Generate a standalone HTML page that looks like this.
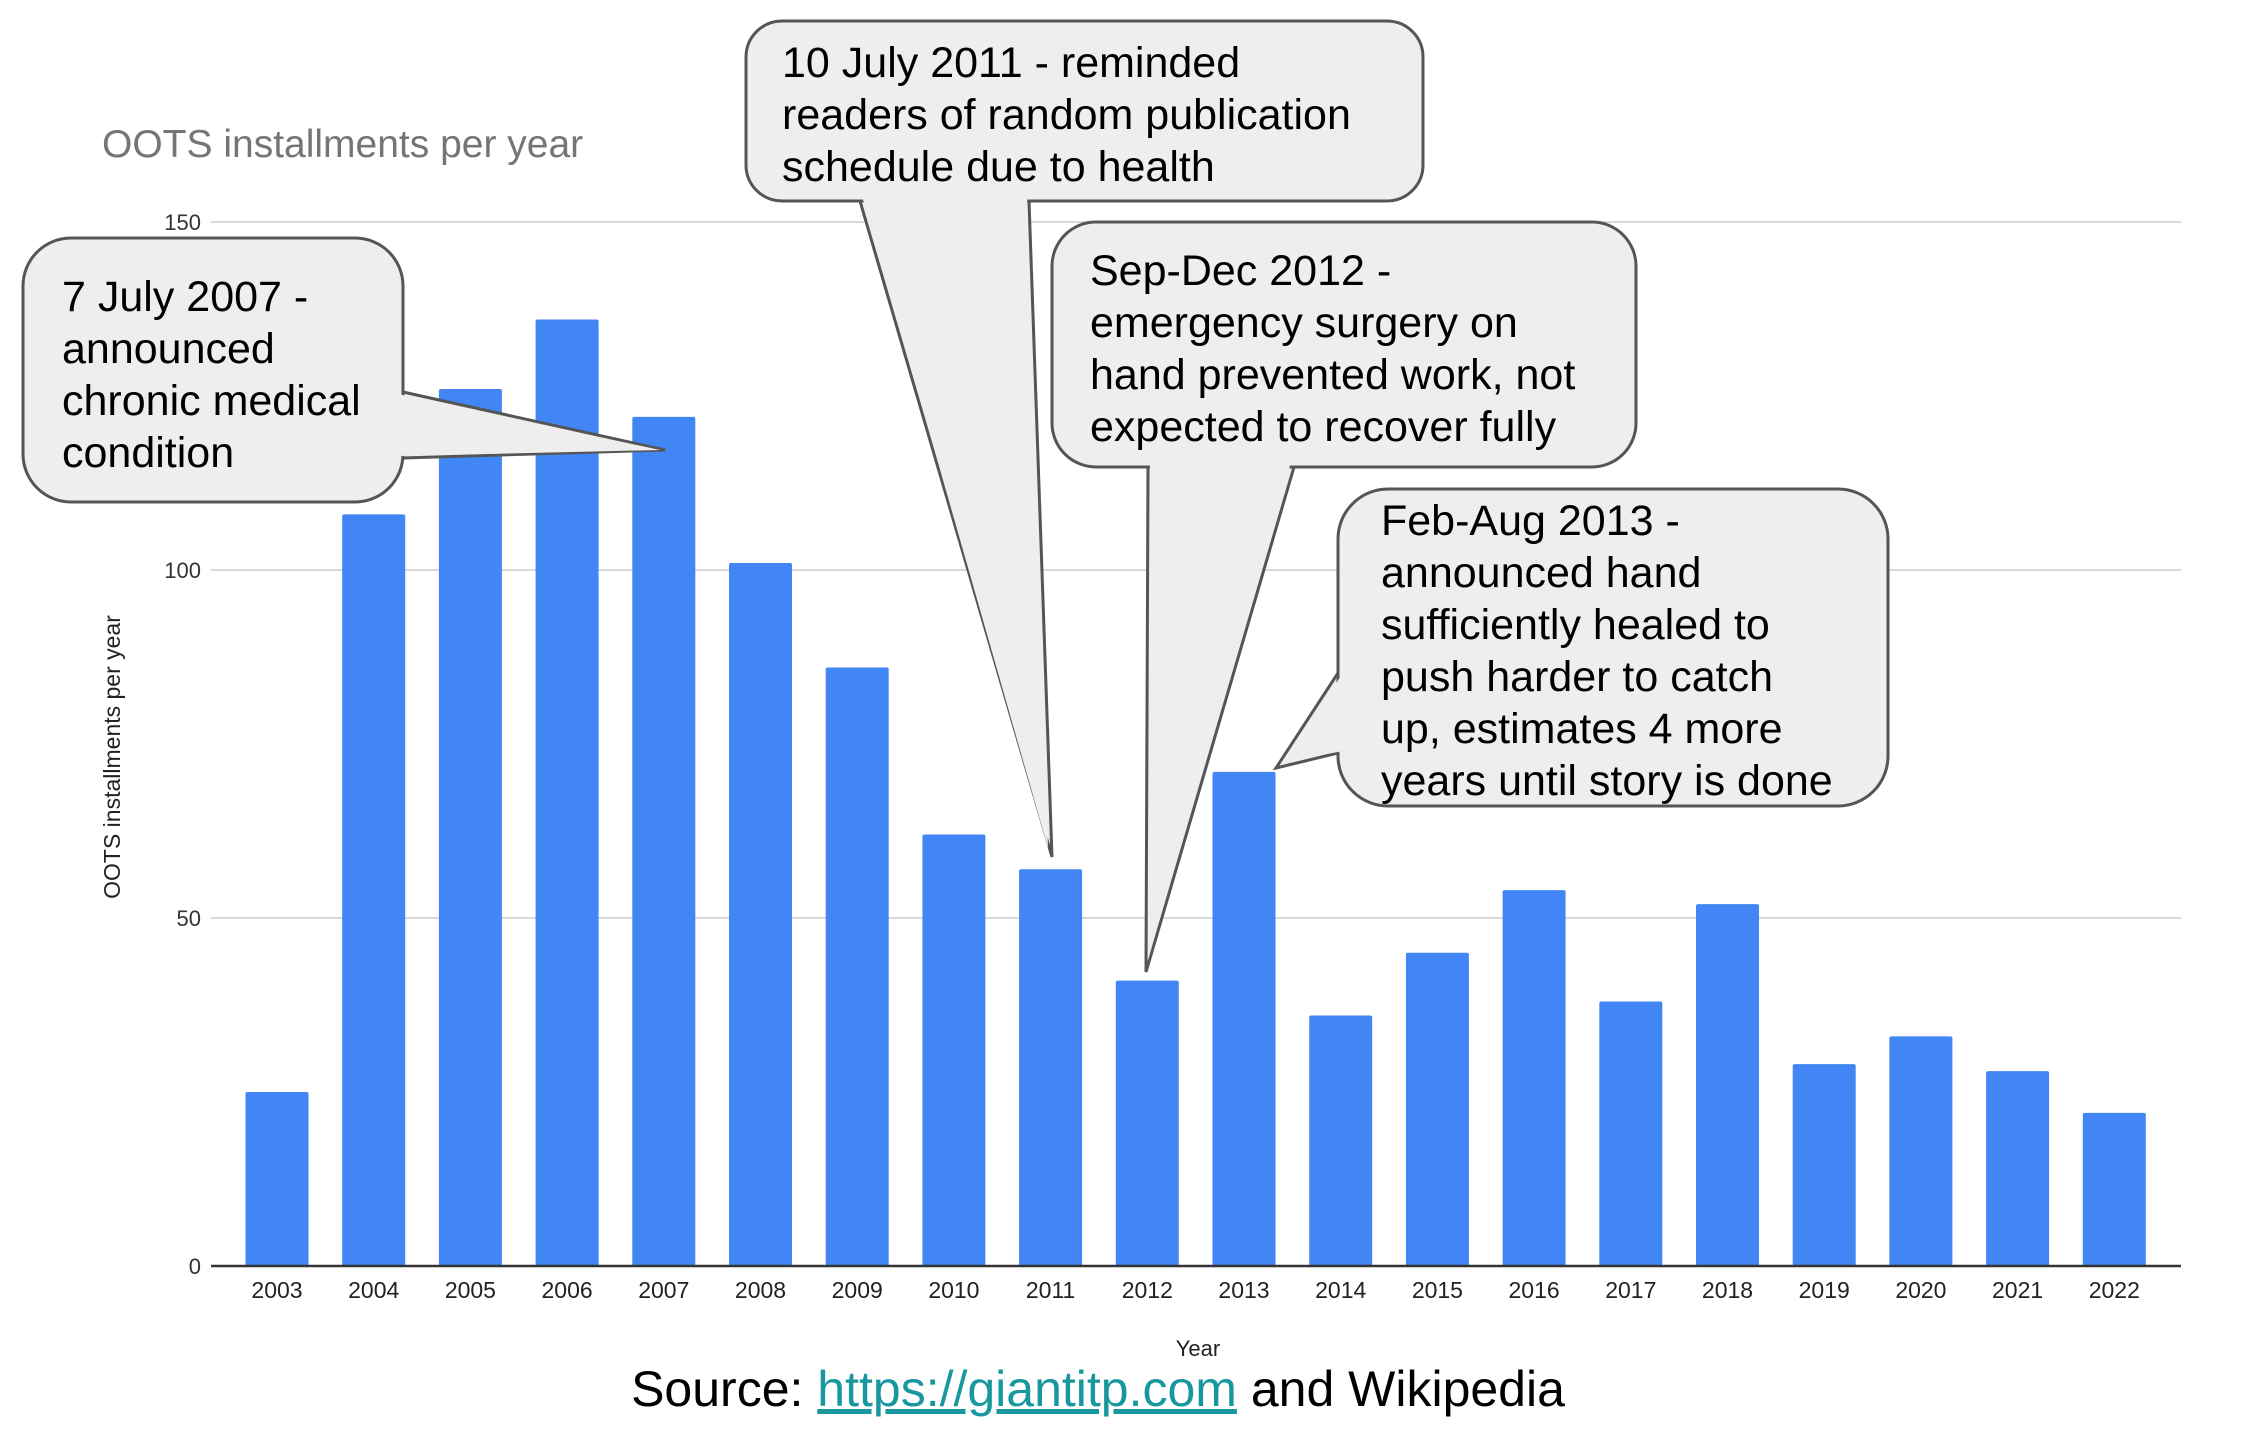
<!DOCTYPE html>
<html><head><meta charset="utf-8"><style>
html,body{margin:0;padding:0;background:#fff;}
svg{display:block;font-family:"Liberation Sans",Arial,sans-serif;}
</style></head><body>
<svg id="chart" width="2245" height="1437" viewBox="0 0 2245 1437" xmlns="http://www.w3.org/2000/svg">
<text x="102" y="157" font-size="39" fill="#757575">OOTS installments per year</text>
<g id="grid"></g>
<g id="bars"></g>
<g id="xlabels"></g>
<text transform="translate(120,757) rotate(-90)" text-anchor="middle" font-size="23" fill="#222">OOTS installments per year</text>
<text x="1198" y="1356" text-anchor="middle" font-size="22" fill="#222">Year</text>

<g>
<polyline points="403,392 665,450 403,458" fill="#eeeeee" stroke="#555" stroke-width="3"/>
<rect x="23" y="238" width="380" height="264" rx="48" fill="#eeeeee" stroke="#555" stroke-width="3"/>
<polygon points="398,394 660,450 398,456" fill="#eeeeee"/>
<text font-size="43" fill="#000"><tspan x="62" y="311">7 July 2007 -</tspan><tspan x="62" dy="52">announced</tspan><tspan x="62" dy="52">chronic medical</tspan><tspan x="62" dy="52">condition</tspan></text>
</g>
<g>
<polyline points="860,201 1052,857 1029,201" fill="#eeeeee" stroke="#555" stroke-width="3"/>
<rect x="746" y="21" width="677" height="180" rx="36" fill="#eeeeee" stroke="#555" stroke-width="3"/>
<polygon points="862,196 1048,848 1027,196" fill="#eeeeee"/>
<text font-size="43" fill="#000"><tspan x="782" y="77">10 July 2011 - reminded</tspan><tspan x="782" dy="52">readers of random publication</tspan><tspan x="782" dy="52">schedule due to health</tspan></text>
</g>
<g>
<polyline points="1148,467 1146,972 1294,467" fill="#eeeeee" stroke="#555" stroke-width="3"/>
<rect x="1052" y="222" width="584" height="245" rx="44" fill="#eeeeee" stroke="#555" stroke-width="3"/>
<polygon points="1150,462 1148,960 1291,462" fill="#eeeeee"/>
<text font-size="43" fill="#000"><tspan x="1090" y="285">Sep-Dec 2012 -</tspan><tspan x="1090" dy="52">emergency surgery on</tspan><tspan x="1090" dy="52">hand prevented work, not</tspan><tspan x="1090" dy="52">expected to recover fully</tspan></text>
</g>
<g>
<polyline points="1338,673 1276,768 1338,753" fill="#eeeeee" stroke="#555" stroke-width="3"/>
<rect x="1338" y="489" width="550" height="317" rx="50" fill="#eeeeee" stroke="#555" stroke-width="3"/>
<polygon points="1343,673 1282,762 1343,751" fill="#eeeeee"/>
<text font-size="43" fill="#000"><tspan x="1381" y="535">Feb-Aug 2013 -</tspan><tspan x="1381" dy="52">announced hand</tspan><tspan x="1381" dy="52">sufficiently healed to</tspan><tspan x="1381" dy="52">push harder to catch</tspan><tspan x="1381" dy="52">up, estimates 4 more</tspan><tspan x="1381" dy="52">years until story is done</tspan></text>
</g>

<text x="1098" y="1406" text-anchor="middle" font-size="50" fill="#000">Source: <tspan fill="#17979e" text-decoration="underline">https://giantitp.com</tspan> and Wikipedia</text>
</svg>
<script>
const years = ["2003","2004","2005","2006","2007","2008","2009","2010","2011","2012","2013","2014","2015","2016","2017","2018","2019","2020","2021","2022"];
const installments = [25,108,126,136,122,101,86,62,57,41,71,36,45,54,38,52,29,33,28,22];
const yTicks = [0,50,100,150];
const NS = "http://www.w3.org/2000/svg";
const y0 = 1266, yTop = 222, maxV = 150;
function yScale(v){ return y0 - v*(y0-yTop)/maxV; }
function xCenter(i){ return 277 + i*96.7; }
const barW = 63;
const grid = document.getElementById('grid');
yTicks.forEach(t=>{
  const l = document.createElementNS(NS,'line');
  
  
  l.setAttribute('x1',211); l.setAttribute('x2',2181);
  l.setAttribute('y1',yScale(t)); l.setAttribute('y2',yScale(t));
  l.setAttribute('stroke', t===0 ? '#333' : '#cccccc');
  l.setAttribute('stroke-width', t===0 ? 2.5 : 1.5);
  grid.appendChild(l);
  const tx = document.createElementNS(NS,'text');
  
  
  tx.setAttribute('x',201); tx.setAttribute('y',yScale(t)+8);
  tx.setAttribute('text-anchor','end'); tx.setAttribute('font-size','22'); tx.setAttribute('fill','#333');
  tx.textContent = t;
  grid.appendChild(tx);
});
const bars = document.getElementById('bars');
const xl = document.getElementById('xlabels');
installments.forEach((v,i)=>{
  const r = document.createElementNS(NS,'rect');
  
  
  r.setAttribute('x', xCenter(i)-barW/2); r.setAttribute('width', barW);
  r.setAttribute('y', yScale(v)); r.setAttribute('height', y0-yScale(v));
  r.setAttribute('rx', 2); r.setAttribute('fill','#4285f4');
  bars.appendChild(r);
  const t = document.createElementNS(NS,'text');
  
  
  t.setAttribute('x', xCenter(i)); t.setAttribute('y', 1298);
  t.setAttribute('text-anchor','middle'); t.setAttribute('font-size','23'); t.setAttribute('fill','#222');
  t.textContent = years[i];
  xl.appendChild(t);
});
grid.parentNode.insertBefore(grid.querySelector('line'), document.getElementById('xlabels'));
</script>
</body></html>
